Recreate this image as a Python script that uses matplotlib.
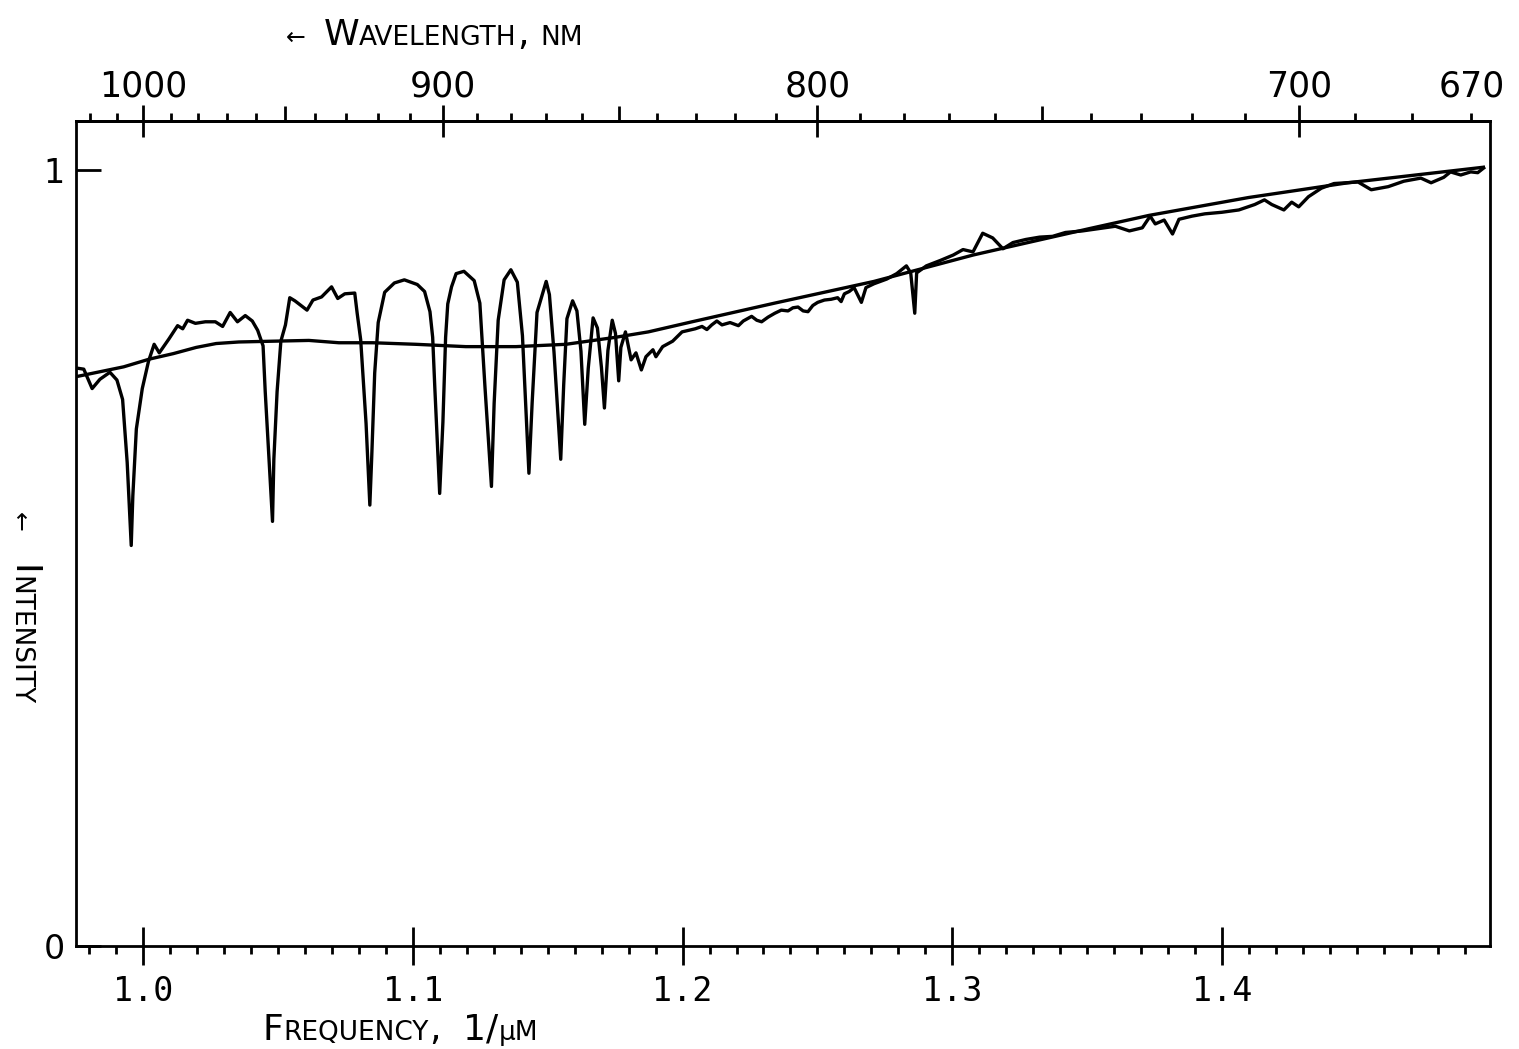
import matplotlib
matplotlib.use("Agg")
import matplotlib.pyplot as plt
from matplotlib.ticker import FixedLocator, MultipleLocator
import numpy as np

# ---------------- data ----------------
freq_obs = [0.9760, 0.9779, 0.9810, 0.9839, 0.9876, 0.9902, 0.9923, 0.9940, 0.9955, 0.9961,
            0.9974, 0.9996, 1.0019, 1.0040, 1.0059, 1.0095, 1.0127, 1.0146, 1.0164, 1.0193,
            1.0230, 1.0267, 1.0294, 1.0322, 1.0349, 1.0378, 1.0404, 1.0424, 1.0444, 1.0452,
            1.0466, 1.0479, 1.0484, 1.0496, 1.0510, 1.0527, 1.0543, 1.0562, 1.0607, 1.0629,
            1.0661, 1.0698, 1.0721, 1.0747, 1.0784, 1.0793, 1.0806, 1.0826, 1.0840, 1.0847,
            1.0858, 1.0871, 1.0895, 1.0931, 1.0968, 1.1016, 1.1043, 1.1063, 1.1073, 1.1081,
            1.1099, 1.1111, 1.1115, 1.1121, 1.1129, 1.1143, 1.1160, 1.1189, 1.1227, 1.1248,
            1.1267, 1.1291, 1.1301, 1.1316, 1.1338, 1.1363, 1.1387, 1.1406, 1.1430, 1.1442,
            1.1460, 1.1494, 1.1506, 1.1523, 1.1548, 1.1559, 1.1571, 1.1592, 1.1608, 1.1623,
            1.1637, 1.1650, 1.1668, 1.1684, 1.1699, 1.1710, 1.1723, 1.1739, 1.1751, 1.1763,
            1.1771, 1.1788, 1.1809, 1.1827, 1.1847, 1.1864, 1.1890, 1.1901, 1.1926, 1.1963,
            1.1998, 1.2047, 1.2072, 1.2090, 1.2108, 1.2127, 1.2146, 1.2176, 1.2207, 1.2225,
            1.2256, 1.2275, 1.2293, 1.2317, 1.2342, 1.2366, 1.2391, 1.2409, 1.2428, 1.2447,
            1.2465, 1.2483, 1.2501, 1.2526, 1.2551, 1.2575, 1.2588, 1.2600, 1.2618, 1.2636,
            1.2663, 1.2680, 1.2710, 1.2757, 1.2794,
            1.2830, 1.2846, 1.2861, 1.2868, 1.2904, 1.2956, 1.3004, 1.3040, 1.3077, 1.3113,
            1.3150, 1.3188, 1.3225, 1.3273, 1.3324, 1.3372, 1.3420, 1.3483, 1.3605, 1.3657,
            1.3705, 1.3734, 1.3753, 1.3786, 1.3817, 1.3841, 1.3889, 1.3937, 1.4000, 1.4063,
            1.4122, 1.4158, 1.4185, 1.4230, 1.4259, 1.4285, 1.4321, 1.4369, 1.4416, 1.4505,
            1.4554, 1.4617, 1.4675, 1.4738, 1.4776, 1.4823, 1.4848, 1.4886, 1.4923, 1.4949, 1.4971]

int_obs = [0.744, 0.743, 0.718, 0.730, 0.739, 0.729, 0.704, 0.623, 0.516, 0.580,
           0.666, 0.718, 0.753, 0.775, 0.764, 0.782, 0.799, 0.795, 0.806, 0.802,
           0.804, 0.804, 0.798, 0.816, 0.804, 0.812, 0.805, 0.793, 0.773, 0.714,
           0.627, 0.547, 0.627, 0.714, 0.779, 0.800, 0.835, 0.831, 0.819, 0.832,
           0.836, 0.849, 0.834, 0.840, 0.841, 0.815, 0.781, 0.673, 0.568, 0.630,
           0.738, 0.803, 0.842, 0.854, 0.858, 0.852, 0.843, 0.817, 0.784, 0.719,
           0.583, 0.675, 0.719, 0.784, 0.827, 0.849, 0.866, 0.869, 0.857, 0.828,
           0.720, 0.592, 0.699, 0.806, 0.858, 0.871, 0.855, 0.786, 0.609, 0.700,
           0.816, 0.856, 0.839, 0.765, 0.627, 0.723, 0.808, 0.831, 0.818, 0.766,
           0.672, 0.744, 0.809, 0.796, 0.745, 0.693, 0.767, 0.806, 0.789, 0.728,
           0.771, 0.791, 0.755, 0.764, 0.742, 0.759, 0.768, 0.759, 0.772, 0.779,
           0.791, 0.795, 0.798, 0.794, 0.800, 0.805, 0.800, 0.803, 0.799, 0.805,
           0.811, 0.806, 0.804, 0.810, 0.815, 0.819, 0.818, 0.822, 0.823, 0.818,
           0.817, 0.825, 0.829, 0.832, 0.833, 0.835, 0.830, 0.840, 0.843, 0.848,
           0.829, 0.848, 0.853, 0.859, 0.866,
           0.876, 0.867, 0.815, 0.867, 0.876, 0.883, 0.890, 0.897, 0.894, 0.918,
           0.912, 0.898, 0.906, 0.910, 0.913, 0.914, 0.919, 0.921, 0.927, 0.921,
           0.925, 0.940, 0.930, 0.935, 0.917, 0.936, 0.940, 0.943, 0.945, 0.948,
           0.955, 0.961, 0.955, 0.948, 0.958, 0.952, 0.965, 0.976, 0.982, 0.984,
           0.974, 0.978, 0.985, 0.989, 0.983, 0.990, 0.997, 0.993, 0.997, 0.996, 1.002]

freq_cont = [0.9760, 0.9927, 1.0023, 1.0111, 1.0196, 1.0270, 1.0354, 1.0480, 1.0614, 1.0725,
             1.0851, 1.1011, 1.1196, 1.1382, 1.1567, 1.1751, 1.1873, 1.2035, 1.2341, 1.2710,
             1.3078, 1.3509, 1.3730, 1.4099, 1.4468, 1.4970]
int_cont = [0.734, 0.746, 0.756, 0.763, 0.771, 0.776, 0.778, 0.779, 0.780, 0.777,
            0.777, 0.775, 0.772, 0.772, 0.775, 0.784, 0.791, 0.804, 0.828, 0.856,
            0.890, 0.924, 0.941, 0.964, 0.983, 1.003]

freq_ticks = [1.0, 1.1, 1.2, 1.3, 1.4]
freq_tick_labels = ["1.0", "1.1", "1.2", "1.3", "1.4"]
wl_major = [1000, 900, 800, 700]
wl_mid = [950, 850, 750]
wl_minor = [1020, 1010, 990, 980, 970, 960, 940, 930, 920, 910, 890, 880, 870, 860,
            840, 830, 820, 810, 790, 780, 770, 760, 740, 730, 720, 710, 690, 680]
wl_end = [670]
y_ticks = [0, 1]
y_tick_labels = ["0", "1"]

# ---------------- figure ----------------
fig = plt.figure(figsize=(15.19, 10.49), dpi=100)
ax = fig.add_axes([0.050, 0.098, 0.931, 0.787])
LW = 2.0
ax.plot(freq_obs, int_obs, color="black", lw=2.4, solid_joinstyle="round")
ax.plot(freq_cont, int_cont, color="black", lw=2.4, solid_joinstyle="round")

ax.set_xlim(0.975, 1.4995)
ax.set_ylim(0, 1.063)
for s in ax.spines.values():
    s.set_linewidth(LW)

ax.xaxis.set_major_locator(FixedLocator(freq_ticks))
ax.set_xticklabels(freq_tick_labels, family="DejaVu Sans Mono")
ax.xaxis.set_minor_locator(MultipleLocator(0.01))
ax.tick_params(axis="x", which="major", direction="inout", length=27, width=LW,
               labelsize=24, pad=7, top=False)
ax.tick_params(axis="x", which="minor", direction="out", length=6, width=LW, top=False)

ax.set_yticks(y_ticks)
ax.set_yticklabels(y_tick_labels)
ax.tick_params(axis="y", which="major", direction="in", length=18, width=LW,
               labelsize=24, pad=8, right=False)


def f2w(f):
    f = np.asarray(f, dtype=float)
    with np.errstate(divide="ignore"):
        return 1000.0 / f


def w2f(w):
    w = np.asarray(w, dtype=float)
    with np.errstate(divide="ignore"):
        return 1000.0 / w


sec1 = ax.secondary_xaxis("top", functions=(f2w, w2f))
sec1.set_xticks(wl_major, labels=[str(w) for w in wl_major])
sec1.xaxis.set_minor_locator(FixedLocator(wl_minor))
sec1.tick_params(axis="x", which="major", direction="inout", length=23, width=LW,
                 labelsize=25, pad=1)
sec1.tick_params(axis="x", which="minor", direction="out", length=6, width=LW)
sec1.spines["top"].set_linewidth(LW)

sec2 = ax.secondary_xaxis("top", functions=(f2w, w2f))
sec2.set_xticks(wl_mid, labels=["" for _ in wl_mid])
sec2.tick_params(axis="x", which="major", direction="out", length=11, width=LW)
sec2.xaxis.set_minor_locator(FixedLocator([]))
sec2.spines["top"].set_linewidth(LW)

sec3 = ax.secondary_xaxis("top", functions=(f2w, w2f))
sec3.set_xticks(wl_end, labels=[str(w) for w in wl_end])
sec3.xaxis.set_minor_locator(FixedLocator([]))
sec3.tick_params(axis="x", which="major", direction="out", length=6, width=LW,
                 labelsize=25, pad=6.5)
sec3.spines["top"].set_linewidth(LW)


def chain_label(x, y, pieces, rotation=0):
    """Draw small-caps style label made of pieces (text, size, gap_pts)."""
    prev = None
    for text, size, gap in pieces:
        if prev is None:
            t = ax.annotate(text, xy=(x, y), xycoords="figure fraction",
                            fontsize=size, ha="left", va="baseline",
                            rotation=rotation, rotation_mode="anchor",
                            annotation_clip=False, family="DejaVu Sans")
        else:
            if rotation == 0:
                t = ax.annotate(text, xy=(1, y), xycoords=(prev, "figure fraction"),
                                xytext=(gap, 0), textcoords="offset points",
                                fontsize=size, ha="left", va="baseline",
                                rotation=0, rotation_mode="anchor",
                                annotation_clip=False, family="DejaVu Sans")
            else:
                t = ax.annotate(text, xy=(x, 0), xycoords=("figure fraction", prev),
                                xytext=(0, -gap), textcoords="offset points",
                                fontsize=size, ha="left", va="baseline",
                                rotation=rotation, rotation_mode="anchor",
                                annotation_clip=False, family="DejaVu Sans")
        prev = t


BIG, SMALL, ARROW = 26, 19, 17
chain_label(0.188, 0.957, [("\u2190", ARROW, 0), ("W", BIG, 13), ("AVELENGTH", SMALL, 0),
                           (",", BIG, 0), ("NM", SMALL, 9)])
chain_label(0.173, 0.009, [("F", BIG, 0), ("REQUENCY", SMALL, 0), (",", BIG, 0),
                           ("1/", BIG, 16), ("\u00b5M", SMALL, 1)])
chain_label(0.008, 0.512, [("\u2190", ARROW, 0), ("I", BIG, 24), ("NTENSITY", SMALL, 0)],
            rotation=-90)

fig.savefig("out.png", dpi=100, facecolor="white")
